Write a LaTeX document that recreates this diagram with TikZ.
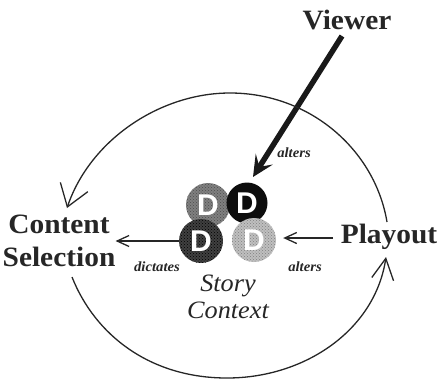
\documentclass[tikz,border=0pt]{standalone}
\usepackage{fontspec}
\setmainfont{Liberation Serif}[FakeStretch=1.05]
\setsansfont{Liberation Sans}
\usetikzlibrary{patterns,arrows.meta}
\tikzset{
  title/.style={font=\bfseries\fontsize{28}{33}\selectfont,align=center,text=black!85,inner sep=0pt},
  note/.style={font=\itshape\bfseries\fontsize{14}{16}\selectfont,text=black!85,inner sep=0pt},
  disc/.style={circle,minimum size=#1,inner sep=0pt,text=white,font=\sffamily\bfseries\fontsize{30}{30}\selectfont},
  stick/.style={line width=1.3pt,black!85,-{Straight Barb[length=12pt,width=11pt,line width=1.3pt]}},
  loopline/.style={line width=1.3pt,black!85,{Straight Barb[length=21pt,width=#1,line width=1.3pt]}-}
}
\begin{document}
\begin{tikzpicture}[x=1pt,y=-1pt]
  \useasboundingbox (0,0) rectangle (441,381);
  \node[title] (viewer) at (347,20) {Viewer};
  \node[title] (content) at (59,241) {Content\\Selection};
  \node[title] (playout) at (389,237) {Playout};
  % the four discs
  \node[disc=44pt,preaction={fill=black!50},pattern=crosshatch dots,pattern color=black!70] (dgrey) at (208,205) {D};
  \node[disc=41pt,fill=black!95] (dblack) at (247,203) {D};
  \node[disc=44pt,preaction={fill=black!75},pattern=crosshatch dots,pattern color=black] (ddark) at (201,241) {D};
  \node[disc=44pt,preaction={fill=black!25},pattern=crosshatch dots,pattern color=black!50] (dlight) at (254,240) {D};
  \node[font=\itshape\fontsize{25}{27}\selectfont,align=center,text=black!85,inner sep=0pt] (story) at (228,297) {Story\\Context};
  \node[note] (altersa) at (294,153) {alters};
  \node[note] (altersb) at (305,267) {alters};
  \node[note] (dictates) at (157,267) {dictates};
  % arrows between the labels and the discs
  \coordinate (viewerend) at (342,36);
  \coordinate (viewertip) at (253,177);
  \coordinate (playstart) at (333,238);
  \draw[line width=5.5pt,black!90,-{Stealth[length=21pt,width=20pt,inset=9pt]}] (viewerend) -- (viewertip);
  \draw[stick,shorten >=7pt] (playstart) -- (playstart -| dlight.east);
  \draw[stick] (ddark.west) -- (content.east |- ddark.west);
  % the big loop
  \coordinate (looptopl) at (67,208);
  \coordinate (looptopr) at (387,222);
  \coordinate (loopbotl) at (72,277);
  \coordinate (loopbotr) at (386,257);
  \draw[loopline=29pt] (looptopl) .. controls (90,140) and (160,93) .. (230,93) .. controls (310,93) and (375,150) .. (looptopr);
  \draw[loopline=22pt] (loopbotr) .. controls (375,330) and (305,378) .. (227,378) .. controls (150,378) and (95,335) .. (loopbotl);
\end{tikzpicture}
\end{document}
